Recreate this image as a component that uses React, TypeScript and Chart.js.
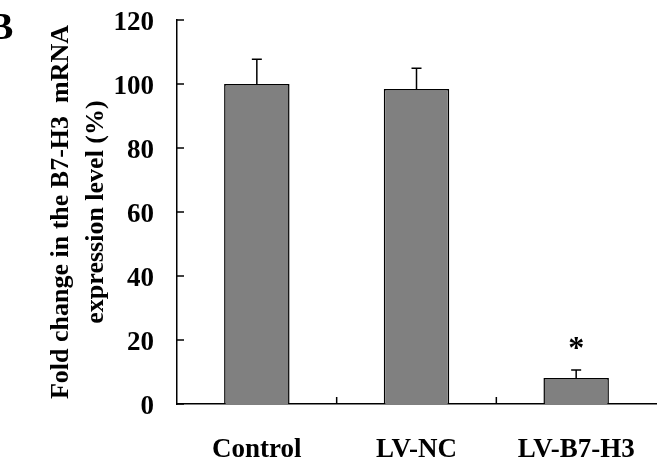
import React, { useEffect, useRef } from "react";
import { Chart, registerables } from "chart.js";

Chart.register(...registerables);

const categories = ["Control", "LV-NC", "LV-B7-H3"];
const values = [100, 98.4, 8.1];
const errors = [7.7, 6.5, 2.5];
const sigMarks = ["", "", "*"];
const yTicks = [0, 20, 40, 60, 80, 100, 120];
const yTitle = ["Fold change in the B7-H3  mRNA", "expression level (%)"];
const panelLabel = "B";

const FONT = "'Liberation Serif', 'Times New Roman', serif";

const decor = {
  id: "decor",
  afterDatasetsDraw(chart: any) {
    const { ctx, scales, chartArea } = chart;
    const x = scales.x;
    const y = scales.y;
    ctx.save();
    ctx.strokeStyle = "#000";
    ctx.lineWidth = 1.5;
    values.forEach((v, i) => {
      const cx = x.getPixelForValue(i);
      const y0 = y.getPixelForValue(v);
      const y1 = y.getPixelForValue(v + errors[i]);
      ctx.beginPath();
      ctx.moveTo(cx, y0);
      ctx.lineTo(cx, y1);
      ctx.moveTo(cx - 5, y1);
      ctx.lineTo(cx + 5, y1);
      ctx.stroke();
      if (sigMarks[i]) {
        ctx.fillStyle = "#000";
        ctx.font = `bold 32px ${FONT}`;
        ctx.textAlign = "center";
        ctx.textBaseline = "middle";
        ctx.fillText(sigMarks[i], cx, y1 - 20);
      }
    });
    yTicks.forEach((t) => {
      const py = y.getPixelForValue(t);
      ctx.beginPath();
      ctx.moveTo(chartArea.left, py);
      ctx.lineTo(chartArea.left + 7, py);
      ctx.stroke();
    });
    for (let i = 0; i < categories.length - 1; i++) {
      const px = (x.getPixelForValue(i) + x.getPixelForValue(i + 1)) / 2;
      ctx.beginPath();
      ctx.moveTo(px, chartArea.bottom);
      ctx.lineTo(px, chartArea.bottom - 7);
      ctx.stroke();
    }
    ctx.fillStyle = "#000";
    ctx.font = `bold 38px ${FONT}`;
    ctx.textAlign = "left";
    ctx.textBaseline = "middle";
    ctx.fillText(panelLabel, -12, 29);
    ctx.restore();
  },
};

export default function App() {
  const ref = useRef<HTMLCanvasElement>(null);
  useEffect(() => {
    if (!ref.current) return;
    const chart = new Chart(ref.current, {
      type: "bar",
      data: {
        labels: categories,
        datasets: [
          {
            data: values,
            backgroundColor: "#808080",
            borderColor: "#000",
            borderWidth: 1.5,
            borderSkipped: "bottom",
            barPercentage: 0.41,
            categoryPercentage: 1,
          },
        ],
      },
      options: {
        responsive: false,
        animation: false,
        layout: { padding: { left: 0, right: 12, top: 20, bottom: 0 } },
        plugins: { legend: { display: false }, tooltip: { enabled: false } },
        scales: {
          x: {
            grid: { display: false },
            border: { display: true, color: "#000", width: 1.5 },
            ticks: {
              color: "#000",
              font: { family: FONT, size: 27, weight: "bold" },
              padding: 22,
              maxRotation: 0,
            },
            afterFit: (s: any) => {
              s.height = 66;
              s.paddingLeft = 0;
              s.paddingRight = 0;
            },
          },
          y: {
            min: 0,
            max: 120,
            grid: { display: false },
            border: { display: true, color: "#000", width: 1.5 },
            ticks: {
              stepSize: 20,
              color: "#000",
              font: { family: FONT, size: 27, weight: "bold" },
              padding: 15,
              labelOffset: 3,
            },
            title: {
              display: true,
              text: yTitle,
              color: "#000",
              font: { family: FONT, size: 26, weight: "bold", lineHeight: 1.35 },
              padding: { top: 44, bottom: 0 },
            },
            afterFit: (s: any) => {
              s.width = 177;
              s.paddingTop = 0;
              s.paddingBottom = 0;
            },
          },
        },
      },
      plugins: [decor],
    });
    return () => chart.destroy();
  }, []);
  return (
    <div style={{ position: "absolute", left: 0, top: 0, width: 668, height: 470, background: "#fff" }}>
      <canvas ref={ref} width={668} height={470} />
    </div>
  );
}
